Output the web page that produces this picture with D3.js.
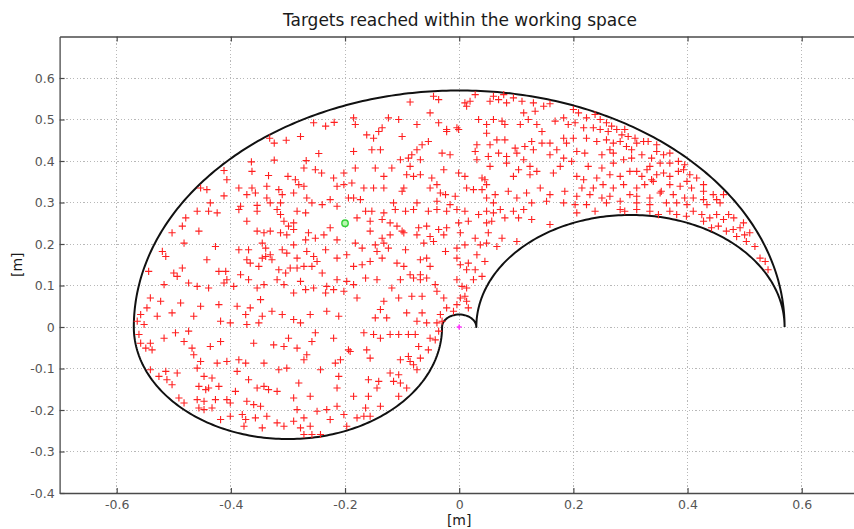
<!DOCTYPE html>
<html>
<head>
<meta charset="utf-8">
<script src="https://cdn.jsdelivr.net/npm/d3@7"></script>
<style>
  html, body { margin: 0; padding: 0; background: #ffffff; }
  svg { display: block; font-family: "DejaVu Sans", "Liberation Sans", sans-serif; }
</style>
</head>
<body>
<svg id="chart" width="854" height="529"></svg>
<script>
// ---- chart text ----
const chartTitle = "Targets reached within the working space";
const xLabel = "[m]";
const yLabel = "[m]";

// ---- axes ----
const xDomain = [-0.7, 0.7];
const yDomain = [-0.4, 0.7];
const xTickValues = [-0.6, -0.4, -0.2, 0, 0.2, 0.4, 0.6];
const xTickLabels = ["-0.6", "-0.4", "-0.2", "0", "0.2", "0.4", "0.6"];
const yTickValues = [-0.4, -0.3, -0.2, -0.1, 0, 0.1, 0.2, 0.3, 0.4, 0.5, 0.6];
const yTickLabels = ["-0.4", "-0.3", "-0.2", "-0.1", "0", "0.1", "0.2", "0.3", "0.4", "0.5", "0.6"];

// ---- two-link arm: link lengths [m] ----
const linkLengths = [0.3, 0.27];

// ---- special points ----
const startPoint = [-0.2, 0.25];   // green circle
const basePoint = [0, 0];          // magenta marker at the shoulder

// ---- reached targets [x, y] in metres ----
const targetsUpperLeft = [
  [-0.255,0.492],[-0.234,0.484],[-0.219,0.493],[-0.332,0.455],[-0.324,0.443],[-0.303,0.450],[-0.278,0.459],
  [-0.246,0.418],[-0.364,0.398],[-0.324,0.402],[-0.268,0.401],[-0.272,0.383],[-0.252,0.379],[-0.241,0.371],
  [-0.412,0.377],[-0.407,0.355],[-0.363,0.375],[-0.334,0.365],[-0.300,0.363],[-0.287,0.355],[-0.281,0.343],
  [-0.272,0.339],[-0.220,0.359],[-0.202,0.371],[-0.202,0.343],[-0.214,0.339],[-0.453,0.335],[-0.442,0.331],
  [-0.412,0.316],[-0.386,0.335],[-0.363,0.335],[-0.357,0.323],[-0.372,0.319],[-0.337,0.339],[-0.316,0.331],
  [-0.310,0.319],[-0.337,0.311],[-0.331,0.299],[-0.313,0.299],[-0.290,0.323],[-0.267,0.311],[-0.258,0.299],
  [-0.226,0.307],[-0.240,0.295],[-0.214,0.291],[-0.194,0.311],[-0.436,0.299],[-0.383,0.291],[-0.354,0.293]
];
const targetsUpperMiddle = [
  [-0.086,0.542],[-0.045,0.556],[-0.036,0.548],[0.010,0.540],[0.019,0.544],[0.028,0.560],[0.013,0.532],
  [0.054,0.544],[0.060,0.556],[0.069,0.548],[0.078,0.560],[0.083,0.540],[0.095,0.552],[0.110,0.544],
  [0.113,0.516],[0.130,0.540],[0.133,0.520],[0.148,0.532],[0.159,0.538],
  [-0.185,0.504],[-0.182,0.488],[-0.124,0.504],[-0.106,0.500],[-0.074,0.488],[-0.051,0.516],[-0.036,0.492],
  [-0.004,0.480],[-0.022,0.476],[0.034,0.500],[0.048,0.488],[0.060,0.500],[0.075,0.496],[0.080,0.488],
  [0.107,0.488],[0.121,0.500],[0.136,0.488],[0.145,0.471],[0.168,0.496],[0.183,0.504],[0.191,0.488],
  [-0.162,0.463],[-0.150,0.455],[-0.141,0.471],[-0.135,0.480],[-0.100,0.459],[-0.065,0.439],[-0.054,0.447],
  [-0.074,0.427],[-0.083,0.415],[-0.022,0.471],[-0.001,0.476],[0.031,0.439],[0.048,0.467],[0.054,0.439],
  [0.066,0.451],[0.080,0.451],[0.069,0.419],[0.083,0.411],[0.098,0.431],[0.115,0.435],[0.130,0.427],
  [0.127,0.447],[0.145,0.443],[0.159,0.443],[0.171,0.427],[0.183,0.455],[0.188,0.443],
  [-0.185,0.423],[-0.153,0.427],[-0.138,0.427],[-0.103,0.403],[-0.089,0.407],[-0.086,0.387],[-0.068,0.403],
  [-0.030,0.419],[-0.016,0.415],[0.028,0.423],[0.031,0.403],[0.054,0.387],[0.051,0.411],[0.083,0.395],
  [0.101,0.419],[0.113,0.403],[0.124,0.387],[0.159,0.415],[0.183,0.407],[0.177,0.387],
  [-0.182,0.383],[-0.147,0.383],[-0.132,0.363],[-0.118,0.383],[-0.092,0.367],[-0.080,0.363],[-0.068,0.367],
  [-0.048,0.359],[-0.027,0.379],[-0.001,0.371],[0.010,0.363],[0.040,0.359],[0.045,0.355],[0.048,0.343],
  [0.095,0.363],[0.104,0.379],[0.124,0.367],[0.136,0.375],[0.165,0.371],
  [-0.188,0.347],[-0.167,0.335],[-0.150,0.335],[-0.132,0.335],[-0.097,0.335],[-0.100,0.327],[-0.051,0.335],
  [-0.039,0.343],[-0.033,0.323],[-0.024,0.319],[-0.007,0.315],[0.013,0.335],[0.025,0.331],[0.040,0.331],
  [0.048,0.311],[0.063,0.319],[0.086,0.327],[0.101,0.311],[0.118,0.323],[0.142,0.335],[0.159,0.319],
  [0.185,0.327],[-0.185,0.311],[-0.173,0.307],[-0.115,0.299],[-0.074,0.299],[-0.039,0.303],[-0.016,0.295],
  [0.060,0.299],[0.127,0.299],[0.153,0.303],[0.183,0.299]
];
const targetsUpperRight = [
  [0.200,0.524],[0.209,0.516],[0.223,0.504],[0.238,0.512],[0.247,0.500],[0.258,0.492],[0.267,0.484],
  [0.203,0.492],[0.218,0.480],[0.235,0.480],[0.247,0.476],[0.261,0.471],[0.276,0.476],[0.285,0.463],
  [0.296,0.459],[0.308,0.455],[0.290,0.476],[0.200,0.455],[0.223,0.455],[0.241,0.447],[0.258,0.451],
  [0.270,0.443],[0.282,0.447],[0.293,0.435],[0.311,0.443],[0.323,0.447],[0.331,0.447],[0.346,0.439],
  [0.302,0.427],[0.264,0.427],[0.250,0.415],[0.270,0.419],[0.220,0.419],[0.206,0.423],[0.197,0.399],
  [0.226,0.387],[0.250,0.383],[0.270,0.395],[0.288,0.403],[0.302,0.407],[0.320,0.415],[0.337,0.407],
  [0.346,0.423],[0.358,0.415],[0.369,0.419],[0.334,0.387],[0.352,0.395],[0.369,0.395],[0.384,0.399],
  [0.395,0.391],[0.206,0.363],[0.218,0.355],[0.241,0.359],[0.264,0.367],[0.282,0.363],[0.299,0.375],
  [0.311,0.375],[0.320,0.363],[0.329,0.379],[0.337,0.355],[0.346,0.367],[0.358,0.371],[0.369,0.363],
  [0.384,0.375],[0.393,0.379],[0.404,0.367],[0.416,0.359],[0.428,0.343],[0.215,0.335],[0.235,0.335],
  [0.252,0.343],[0.270,0.335],[0.288,0.343],[0.311,0.335],[0.325,0.343],[0.340,0.351],[0.354,0.327],
  [0.369,0.343],[0.387,0.339],[0.399,0.351],[0.407,0.335],[0.428,0.327],[0.445,0.319],[0.463,0.319],
  [0.206,0.315],[0.229,0.319],[0.250,0.311],[0.264,0.315],[0.299,0.319],[0.311,0.315],[0.334,0.311],
  [0.352,0.323],[0.375,0.319],[0.395,0.311],[0.410,0.311],[0.428,0.307],[0.451,0.307],[0.203,0.295],
  [0.223,0.295],[0.258,0.299],[0.282,0.303],[0.311,0.299],[0.334,0.295],[0.363,0.299],[0.381,0.299],
  [0.399,0.295],[0.434,0.295],[0.457,0.299]
];
const targetsCrescent = [
  [0.206,0.275],[0.238,0.279],[0.282,0.283],[0.290,0.279],[0.311,0.283],[0.334,0.279],[0.349,0.271],
  [0.369,0.279],[0.381,0.271],[0.398,0.267],[0.410,0.279],[0.425,0.271],[0.428,0.255],[0.439,0.263],
  [0.451,0.271],[0.463,0.259],[0.472,0.271],[0.481,0.263],[0.442,0.239],[0.454,0.243],[0.468,0.231],
  [0.480,0.235],[0.492,0.239],[0.498,0.251],[0.486,0.218],[0.500,0.222],[0.509,0.227],[0.503,0.206],
  [0.518,0.194],[0.527,0.166],[0.536,0.158],[0.541,0.138]
];
const targetsCentre = [
  [-0.164,0.279],[-0.153,0.279],[-0.132,0.275],[-0.112,0.283],[-0.094,0.279],[-0.080,0.283],[-0.054,0.279],
  [-0.039,0.283],[-0.022,0.279],[-0.004,0.283],[0.010,0.279],[0.034,0.271],[0.048,0.279],[0.060,0.275],
  [0.072,0.283],[0.095,0.279],[0.113,0.283],[0.127,0.259],[0.159,0.247],
  [-0.179,0.263],[-0.156,0.255],[-0.135,0.259],[-0.121,0.251],[-0.109,0.243],[-0.100,0.231],[-0.071,0.239],
  [-0.057,0.243],[-0.036,0.235],[-0.022,0.239],[-0.001,0.251],[0.016,0.255],[0.048,0.251],[0.057,0.255],
  [0.080,0.263],[0.104,0.263],
  [-0.156,0.231],[-0.135,0.214],[-0.121,0.222],[-0.097,0.227],[-0.074,0.222],[-0.051,0.218],[-0.027,0.222],
  [0.002,0.227],[0.028,0.214],[0.051,0.227],[0.075,0.214],[0.101,0.206],
  [-0.182,0.202],[-0.170,0.190],[-0.147,0.198],[-0.132,0.202],[-0.144,0.182],[-0.124,0.190],[-0.094,0.186],
  [-0.062,0.202],[-0.045,0.206],[-0.024,0.182],[-0.004,0.190],[0.010,0.198],[0.037,0.198],[0.048,0.202],
  [0.066,0.194],
  [-0.185,0.146],[-0.170,0.150],[-0.156,0.158],[-0.135,0.166],[-0.109,0.154],[-0.097,0.146],[-0.086,0.126],
  [-0.068,0.126],[-0.068,0.162],[-0.057,0.166],[-0.051,0.146],[-0.004,0.166],[0.002,0.150],[0.016,0.154],
  [0.013,0.138],[0.028,0.138],[0.045,0.158],[0.031,0.174],
  [-0.185,0.102],[-0.164,0.118],[-0.144,0.114],[-0.118,0.094],[-0.103,0.114],[-0.080,0.118],[-0.068,0.114],
  [-0.057,0.118],[-0.042,0.102],[-0.004,0.114],[0.005,0.098],[0.013,0.094],[0.025,0.114],[0.040,0.122],
  [-0.179,0.070],[-0.138,0.042],[-0.132,0.062],[-0.106,0.070],[-0.083,0.074],[-0.065,0.074],[-0.039,0.086],
  [-0.027,0.070],[0.002,0.070],[0.010,0.074],[0.013,0.062],[-0.004,0.054],[0.016,0.046],[-0.022,0.046],
  [-0.010,0.038],[-0.033,0.030],[-0.147,0.022],[-0.127,0.022],[-0.092,0.034],[-0.074,0.014],[-0.065,0.034],
  [-0.057,0.010],[-0.039,0.010],[-0.030,0.014]
];
const targetsLeft = [
  [-0.479,0.263],[-0.485,0.243],[-0.459,0.279],[-0.439,0.279],[-0.424,0.275],[-0.386,0.283],[-0.372,0.255],
  [-0.354,0.279],[-0.319,0.283],[-0.313,0.271],[-0.307,0.255],[-0.299,0.243],[-0.290,0.235],[-0.284,0.279],
  [-0.269,0.275],[-0.290,0.251],[-0.354,0.231],[-0.342,0.227],[-0.331,0.231],[-0.313,0.227],[-0.302,0.222],
  [-0.269,0.210],[-0.264,0.227],[-0.252,0.214],[-0.237,0.222],[-0.226,0.239],[-0.214,0.210],
  [-0.503,0.227],[-0.456,0.231],[-0.427,0.194],[-0.520,0.182],[-0.514,0.170],[-0.482,0.202],[-0.386,0.186],
  [-0.369,0.186],[-0.345,0.202],[-0.339,0.190],[-0.331,0.174],[-0.310,0.186],[-0.290,0.198],[-0.302,0.178],
  [-0.284,0.166],[-0.267,0.182],[-0.255,0.170],[-0.249,0.158],[-0.234,0.186],[-0.214,0.166],[-0.197,0.174],
  [-0.544,0.134],[-0.500,0.130],[-0.485,0.142],[-0.494,0.122],[-0.442,0.162],[-0.421,0.134],[-0.409,0.134],
  [-0.407,0.114],[-0.372,0.162],[-0.366,0.154],[-0.351,0.146],[-0.383,0.126],[-0.369,0.114],[-0.345,0.166],
  [-0.339,0.170],[-0.328,0.162],[-0.316,0.138],[-0.319,0.114],[-0.304,0.130],[-0.296,0.142],[-0.284,0.142],
  [-0.272,0.146],[-0.258,0.146],[-0.240,0.130],[-0.278,0.110],[-0.232,0.098],[-0.214,0.114],[-0.197,0.110],
  [-0.517,0.102],[-0.474,0.106],[-0.459,0.098],[-0.439,0.094],[-0.412,0.106],[-0.395,0.098],[-0.354,0.094],
  [-0.342,0.102],[-0.307,0.102],[-0.290,0.082],[-0.269,0.090],[-0.255,0.094],[-0.234,0.082],[-0.220,0.090],
  [-0.202,0.086],[-0.541,0.070],[-0.523,0.062],[-0.547,0.046],[-0.558,0.030],[-0.564,0.014],[-0.552,0.006],
  [-0.488,0.058],[-0.453,0.050],[-0.421,0.054],[-0.389,0.050],[-0.348,0.066],[-0.374,0.030],[-0.366,0.046],
  [-0.345,0.026],[-0.328,0.038],[-0.310,0.030],[-0.290,0.018],[-0.278,0.010],[-0.261,0.030],[-0.232,0.038],
  [-0.211,0.026],[-0.529,0.026],[-0.503,0.034],[-0.465,0.026],[-0.418,0.014],[-0.401,0.010],[-0.372,0.006],
  [-0.351,0.010]
];
const targetsLowerLeft = [
  [-0.561,-0.018],[-0.558,-0.039],[-0.549,-0.051],[-0.541,-0.039],[-0.538,-0.055],[-0.517,-0.027],[-0.497,-0.014],
  [-0.474,-0.010],[-0.482,-0.035],[-0.468,-0.051],[-0.453,-0.083],[-0.465,-0.067],[-0.436,-0.047],[-0.418,-0.035],
  [-0.424,-0.087],[-0.407,-0.083],[-0.386,-0.079],[-0.374,-0.087],[-0.360,-0.039],[-0.342,-0.087],[-0.325,-0.043],
  [-0.307,-0.047],[-0.299,-0.027],[-0.284,-0.051],[-0.272,-0.079],[-0.267,-0.067],[-0.258,-0.035],[-0.252,-0.014],
  [-0.220,-0.027],[-0.217,-0.087],[-0.208,-0.079],[-0.194,-0.055],
  [-0.541,-0.103],[-0.526,-0.119],[-0.514,-0.107],[-0.512,-0.127],[-0.503,-0.139],[-0.494,-0.111],[-0.459,-0.099],
  [-0.447,-0.119],[-0.433,-0.123],[-0.421,-0.143],[-0.456,-0.143],[-0.444,-0.151],[-0.439,-0.147],[-0.389,-0.107],
  [-0.392,-0.155],[-0.369,-0.127],[-0.354,-0.147],[-0.342,-0.143],[-0.334,-0.151],[-0.319,-0.155],[-0.316,-0.103],
  [-0.302,-0.099],[-0.281,-0.135],[-0.243,-0.103],[-0.211,-0.119],[-0.214,-0.147],
  [-0.491,-0.171],[-0.482,-0.183],[-0.459,-0.175],[-0.447,-0.179],[-0.427,-0.175],[-0.407,-0.175],[-0.401,-0.183],
  [-0.456,-0.195],[-0.447,-0.199],[-0.433,-0.195],[-0.372,-0.179],[-0.360,-0.187],[-0.348,-0.191],[-0.290,-0.171],
  [-0.261,-0.167],[-0.249,-0.203],[-0.232,-0.199],[-0.214,-0.191],[-0.202,-0.211],[-0.284,-0.199],
  [-0.418,-0.223],[-0.401,-0.215],[-0.380,-0.211],[-0.374,-0.223],[-0.377,-0.239],[-0.357,-0.219],[-0.345,-0.243],
  [-0.337,-0.215],[-0.319,-0.231],[-0.307,-0.239],[-0.290,-0.227],[-0.272,-0.219],[-0.278,-0.243],[-0.261,-0.239],
  [-0.272,-0.259],[-0.258,-0.259],[-0.243,-0.259],[-0.226,-0.223],[-0.197,-0.239]
];
const targetsLowerRight = [
  [-0.167,-0.014],[-0.150,-0.018],[-0.138,-0.027],[-0.121,-0.018],[-0.106,-0.018],[-0.089,-0.018],[-0.077,-0.018],
  [-0.051,-0.027],[-0.042,-0.031],[-0.036,-0.010],[-0.191,-0.059],[-0.162,-0.055],[-0.156,-0.075],[-0.103,-0.079],
  [-0.089,-0.071],[-0.086,-0.083],[-0.068,-0.075],[-0.071,-0.047],[-0.054,-0.055],[-0.080,-0.091],[-0.074,-0.103],
  [-0.121,-0.111],[-0.106,-0.115],[-0.159,-0.127],[-0.141,-0.131],[-0.144,-0.147],[-0.159,-0.167],[-0.185,-0.167],
  [-0.115,-0.131],[-0.103,-0.135],[-0.092,-0.147],[-0.106,-0.167],[-0.164,-0.195],[-0.138,-0.191],[-0.179,-0.219],
  [-0.167,-0.215],[-0.156,-0.215]
];
const targets = [].concat(
  targetsUpperLeft, targetsUpperMiddle, targetsUpperRight, targetsCrescent,
  targetsCentre, targetsLeft, targetsLowerLeft, targetsLowerRight
);

// ---- layout ----
const plot = { left: 59.6, right: 858.8, top: 36.5, bottom: 493 };

const svg = d3.select("#chart");
const x = d3.scaleLinear().domain(xDomain).range([plot.left, plot.right]);
const y = d3.scaleLinear().domain(yDomain).range([plot.bottom, plot.top]);

const axisColor = "#4a4a4a";
const gridColor = "#b8b8b8";

// dotted grid
const grid = svg.append("g").attr("class", "grid");
grid.selectAll("line.gx").data(xTickValues).join("line")
  .attr("class", "gx")
  .attr("x1", d => x(d)).attr("x2", d => x(d))
  .attr("y1", plot.top).attr("y2", plot.bottom);
grid.selectAll("line.gy").data(yTickValues.filter(v => v > yDomain[0])).join("line")
  .attr("class", "gy")
  .attr("y1", d => y(d)).attr("y2", d => y(d))
  .attr("x1", plot.left).attr("x2", plot.right);
grid.selectAll("line")
  .attr("stroke", gridColor).attr("stroke-width", 1)
  .attr("stroke-dasharray", "1.2,2.2").attr("shape-rendering", "crispEdges");

// workspace boundary of the two-link arm
const [L1, L2] = linkLengths;
function arc(cx, cy, r, a0, a1, n) {
  return d3.range(n + 1).map(i => {
    const a = a0 + (a1 - a0) * i / n;
    return [cx + r * Math.cos(a), cy + r * Math.sin(a)];
  });
}
const boundary = [].concat(
  arc(0, 0, L1 + L2, 0, Math.PI, 240),                 // outer reach
  arc(-L1, 0, L2, Math.PI, 2 * Math.PI, 160),          // elbow at 180 deg
  arc(0, 0, L1 - L2, Math.PI, 0, 30),                  // inner reach
  arc(L1, 0, L2, Math.PI, 0, 160)                      // elbow at 0 deg
);
const line = d3.line().x(d => x(d[0])).y(d => y(d[1]));
svg.append("path")
  .attr("d", line(boundary))
  .attr("fill", "none")
  .attr("stroke", "#111")
  .attr("stroke-width", 2)
  .attr("stroke-linejoin", "round");

// target markers
const arm = 3.6;
svg.append("g").selectAll("path").data(targets).join("path")
  .attr("d", d => {
    const px = x(d[0]), py = y(d[1]);
    return `M${px - arm},${py}H${px + arm}M${px},${py - arm}V${py + arm}`;
  })
  .attr("stroke", "#ff2020")
  .attr("stroke-width", 1.1)
  .attr("fill", "none");

// base marker
{
  const px = x(basePoint[0]), py = y(basePoint[1]);
  svg.append("path")
    .attr("d", `M${px - 2.5},${py}H${px + 2.5}M${px},${py - 2.5}V${py + 2.5}`)
    .attr("stroke", "#ff33ff").attr("stroke-width", 1.6);
}

// start marker
svg.append("circle")
  .attr("cx", x(startPoint[0])).attr("cy", y(startPoint[1]))
  .attr("r", 3.2)
  .attr("fill", "#b9f7b0")
  .attr("stroke", "#35d13a")
  .attr("stroke-width", 1.4);

// axes with inward ticks
const fmtX = d => xTickLabels[xTickValues.indexOf(d)];
const fmtY = d => yTickLabels[yTickValues.indexOf(d)];

const gBottom = svg.append("g").attr("transform", `translate(0,${plot.bottom})`)
  .call(d3.axisBottom(x).tickValues(xTickValues).tickSizeInner(-5).tickSizeOuter(0).tickPadding(7).tickFormat(fmtX));
const gTop = svg.append("g").attr("transform", `translate(0,${plot.top})`)
  .call(d3.axisTop(x).tickValues(xTickValues).tickSizeInner(-5).tickSizeOuter(0).tickFormat(""));
const gLeft = svg.append("g").attr("transform", `translate(${plot.left},0)`)
  .call(d3.axisLeft(y).tickValues(yTickValues).tickSizeInner(-5).tickSizeOuter(0).tickPadding(5).tickFormat(fmtY));
const gRight = svg.append("g").attr("transform", `translate(${plot.right},0)`)
  .call(d3.axisRight(y).tickValues(yTickValues).tickSizeInner(-5).tickSizeOuter(0).tickFormat(""));

[gBottom, gTop, gLeft, gRight].forEach(g => {
  g.select(".domain").attr("stroke", axisColor).attr("stroke-width", 1.3);
  g.selectAll(".tick line").attr("stroke", axisColor).attr("stroke-width", 1.2);
  g.selectAll(".tick text")
    .attr("fill", "#555")
    .style("font-size", "12.5px")
    .style("font-family", "'DejaVu Sans', sans-serif");
});

// title and axis labels
svg.append("text")
  .attr("x", 460).attr("y", 26)
  .attr("text-anchor", "middle")
  .attr("fill", "#1a1a1a")
  .style("font-size", "17px")
  .text(chartTitle);

svg.append("text")
  .attr("x", x(0)).attr("y", 525)
  .attr("text-anchor", "middle")
  .attr("fill", "#1a1a1a")
  .style("font-size", "14px")
  .text(xLabel);

svg.append("text")
  .attr("transform", `translate(22,${y(0.15)}) rotate(-90)`)
  .attr("text-anchor", "middle")
  .attr("fill", "#1a1a1a")
  .style("font-size", "14px")
  .text(yLabel);
</script>
</body>
</html>
